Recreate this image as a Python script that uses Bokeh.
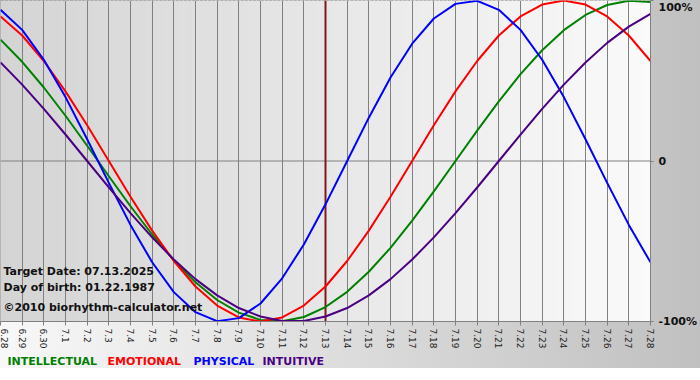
import math
from bokeh.plotting import figure
from bokeh.layouts import column
from bokeh.models import Range1d, LinearAxis, FixedTicker, Span, Label, Grid
from bokeh.embed import file_html
from bokeh.resources import INLINE

# ---- data ----
dates = ["6.28", "6.29", "6.30", "7.1", "7.2", "7.3", "7.4", "7.5", "7.6", "7.7",
         "7.8", "7.9", "7.10", "7.11", "7.12", "7.13", "7.14", "7.15", "7.16", "7.17",
         "7.18", "7.19", "7.20", "7.21", "7.22", "7.23", "7.24", "7.25", "7.26", "7.27", "7.28"]
target_date = "7.13"

physical = [0.942, 0.817, 0.631, 0.398, 0.136, -0.136, -0.398, -0.631, -0.817, -0.942,
            -0.998, -0.979, -0.888, -0.731, -0.520, -0.270, 0.000, 0.270, 0.520, 0.731,
            0.888, 0.979, 0.998, 0.942, 0.817, 0.631, 0.398, 0.136, -0.136, -0.398, -0.631]
emotional = [0.901, 0.782, 0.623, 0.434, 0.223, 0.000, -0.223, -0.434, -0.623, -0.782,
             -0.901, -0.975, -1.000, -0.975, -0.901, -0.782, -0.623, -0.434, -0.223, 0.000,
             0.223, 0.434, 0.623, 0.782, 0.901, 0.975, 1.000, 0.975, 0.901, 0.782, 0.623]
intellectual = [0.756, 0.618, 0.458, 0.282, 0.095, -0.095, -0.282, -0.458, -0.618, -0.756,
                -0.866, -0.945, -0.990, -0.999, -0.972, -0.910, -0.815, -0.690, -0.541, -0.372,
                -0.189, 0.000, 0.189, 0.372, 0.541, 0.690, 0.815, 0.910, 0.972, 0.999, 0.990]
intuitive = [0.614, 0.476, 0.325, 0.165, 0.000, -0.165, -0.325, -0.476, -0.614, -0.736,
             -0.837, -0.916, -0.969, -0.997, -0.997, -0.969, -0.916, -0.837, -0.736, -0.614,
             -0.476, -0.325, -0.165, 0.000, 0.165, 0.325, 0.476, 0.614, 0.736, 0.837, 0.916]

pct_ticks = [1, 0, -1]
pct_labels = ["100%", "0", "-100%"]

legend_names = ["INTELLECTUAL", "EMOTIONAL", "PHYSICAL", "INTUITIVE"]
info_lines = ["Target Date: 07.13.2025", "Day of birth: 01.22.1987", "\u00a92010 biorhythm-calculator.net"]

# ---- styling ----
series = [intellectual, emotional, physical, intuitive]
colors = ["#008000", "#ff0000", "#0000ff", "#4b0082"]
FONT = "DejaVu Sans"
W = 700
OUTER_BG = {"background": "linear-gradient(to right, #f8f8f8 0%, #c0c0c0 100%)"}

xs = list(range(len(dates)))
x_last = xs[-1]

p = figure(width=W, height=353, output_backend="svg", toolbar_location=None,
           x_range=Range1d(0, x_last), y_range=Range1d(-1, 1),
           x_axis_location=None, y_axis_location=None,
           min_border_left=0, min_border_top=0, min_border_right=49, min_border_bottom=32)
p.grid.visible = False
p.border_fill_alpha = 0
p.background_fill_alpha = 0
p.outline_line_color = "#808080"
p.outline_line_width = 1
p.styles = OUTER_BG

# plot-area horizontal gradient (dark left -> light right)
n = 160
c0, c1 = (0xd4, 0xd4, 0xd4), (0xfa, 0xfa, 0xfa)
lefts = [x_last * k / n for k in range(n)]
rights = [x_last * (k + 1) / n for k in range(n)]
grad = []
for k in range(n):
    t = (k + 0.5) / n
    rgb = tuple(int(round(a + (b - a) * t)) for a, b in zip(c0, c1))
    grad.append("#%02x%02x%02x" % rgb)
p.quad(left=lefts, right=rights, bottom=-1.2, top=1.2, fill_color=grad,
       line_color=grad, line_width=1, level="image")

# bottom axis with rotated date labels
xaxis = LinearAxis(ticker=FixedTicker(ticks=xs),
                   major_label_overrides={x: d for x, d in zip(xs, dates)})
xaxis.major_label_orientation = -math.pi / 2
xaxis.major_label_text_font = FONT
xaxis.major_label_text_font_size = "9px"
xaxis.major_label_text_color = "#222222"
xaxis.major_label_standoff = 3
xaxis.major_tick_in = 0
xaxis.major_tick_out = 4
xaxis.major_tick_line_color = "#808080"
xaxis.minor_tick_line_color = None
xaxis.axis_line_color = "#808080"
p.add_layout(xaxis, "below")

# right axis with percentage labels (top label kept inside the canvas)
yaxis = LinearAxis(ticker=FixedTicker(ticks=pct_ticks),
                   major_label_overrides={t: (l + "\n" if t == 1 else l)
                                          for t, l in zip(pct_ticks, pct_labels)})
yaxis.major_label_text_font = FONT
yaxis.major_label_text_font_style = "bold"
yaxis.major_label_text_font_size = "11px"
yaxis.major_label_text_color = "#111111"
yaxis.major_label_standoff = 5
yaxis.major_tick_in = 0
yaxis.major_tick_out = 3
yaxis.major_tick_line_color = "#808080"
yaxis.minor_tick_line_color = None
yaxis.axis_line_color = "#808080"
p.add_layout(yaxis, "right")

# grid: one vertical line per day and the zero line
p.add_layout(Grid(dimension=0, ticker=FixedTicker(ticks=xs), grid_line_color="#808080",
                  grid_line_width=1))
p.add_layout(Span(location=0, dimension="width", line_color="#808080", line_width=1,
                  level="underlay"))

# target date line
p.add_layout(Span(location=dates.index(target_date), dimension="height",
                  line_color="#7f1a1a", line_width=2, level="underlay"))

# curves
for vals, col in zip(series, colors):
    p.line(xs, vals, line_color=col, line_width=2, line_join="round")

# info text inside the plot
for txt, yy in zip(info_lines, [50, 34, 14]):
    p.add_layout(Label(x=3, y=yy, x_units="screen", y_units="screen", text=txt,
                       text_font=FONT, text_font_style="bold", text_font_size="11px",
                       text_color="#111111", text_baseline="middle"))

# legend row below the chart (separate strip of the same width)
leg = figure(width=W, height=15, output_backend="svg", toolbar_location=None,
             x_range=Range1d(0, 1), y_range=Range1d(0, 1),
             x_axis_location=None, y_axis_location=None,
             min_border_left=0, min_border_top=0, min_border_right=0, min_border_bottom=0)
leg.grid.visible = False
leg.border_fill_alpha = 0
leg.background_fill_alpha = 0
leg.outline_line_color = None
leg.styles = OUTER_BG
for name, col, lx in zip(legend_names, colors, [7, 107, 193, 262]):
    leg.add_layout(Label(x=lx, y=7, x_units="screen", y_units="screen", text=name,
                         text_font=FONT, text_font_style="bold", text_font_size="11px",
                         text_color=col, text_baseline="middle"))

layout = column(p, leg, spacing=0)
open("out.html", "w").write(file_html(layout, INLINE))
